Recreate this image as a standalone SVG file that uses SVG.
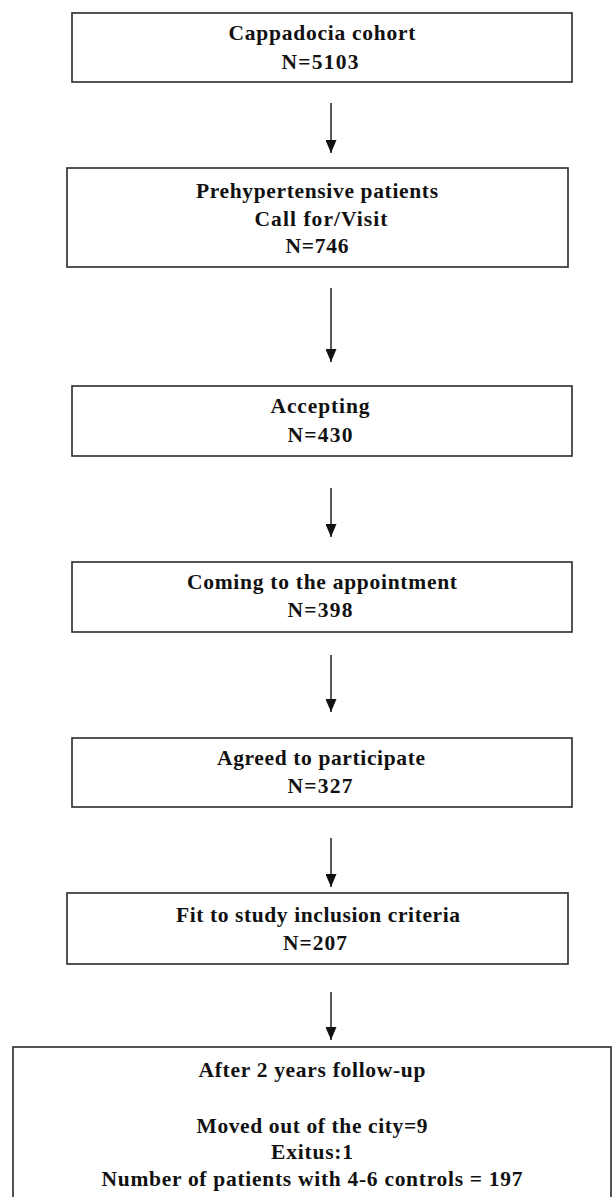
<svg xmlns="http://www.w3.org/2000/svg" width="612" height="1197" viewBox="0 0 612 1197">
<defs>
<style>
.box{fill:#ffffff;stroke:#2a2a2a;stroke-width:1.6}
.t{font-family:"Liberation Serif","Times New Roman",serif;font-weight:bold;font-size:21.5px;fill:#111;text-anchor:middle}
.c{stroke:#111;stroke-width:1.4;fill:none}
</style>
<marker id="ah" markerUnits="userSpaceOnUse" markerWidth="14" markerHeight="11" refX="13" refY="5.5" orient="auto">
<path d="M0,0 L13,5.5 L0,11 z" fill="#111"/>
</marker>
</defs>
<rect width="612" height="1197" fill="#ffffff"/>
<g id="connectors">
<line class="c" x1="331" y1="103" x2="331" y2="153" marker-end="url(#ah)"/>
<line class="c" x1="331" y1="288" x2="331" y2="362" marker-end="url(#ah)"/>
<line class="c" x1="331" y1="488" x2="331" y2="537" marker-end="url(#ah)"/>
<line class="c" x1="331" y1="655" x2="331" y2="712" marker-end="url(#ah)"/>
<line class="c" x1="331" y1="838" x2="331" y2="887" marker-end="url(#ah)"/>
<line class="c" x1="331" y1="992" x2="331" y2="1040" marker-end="url(#ah)"/>
</g>
<g id="n1">
<rect class="box" x="72" y="13" width="500" height="69"/>
<text class="t" x="322" y="40" textLength="187">Cappadocia cohort</text>
<text class="t" x="320" y="69" textLength="77">N=5103</text>
</g>
<g id="n2">
<rect class="box" x="67" y="168" width="501" height="99"/>
<text class="t" x="317" y="198" textLength="242">Prehypertensive patients</text>
<text class="t" x="321" y="226" textLength="133">Call for/Visit</text>
<text class="t" x="317" y="253" textLength="63">N=746</text>
</g>
<g id="n3">
<rect class="box" x="72" y="386" width="500" height="70"/>
<text class="t" x="320" y="413" textLength="99">Accepting</text>
<text class="t" x="320" y="442" textLength="65">N=430</text>
</g>
<g id="n4">
<rect class="box" x="72" y="562" width="500" height="70"/>
<text class="t" x="322" y="589" textLength="270">Coming to the appointment</text>
<text class="t" x="320" y="617" textLength="65">N=398</text>
</g>
<g id="n5">
<rect class="box" x="72" y="738" width="500" height="69"/>
<text class="t" x="321" y="765" textLength="208">Agreed to participate</text>
<text class="t" x="320" y="793" textLength="65">N=327</text>
</g>
<g id="n6">
<rect class="box" x="67" y="893" width="501" height="71"/>
<text class="t" x="318" y="922" textLength="284">Fit to study  inclusion criteria</text>
<text class="t" x="315" y="950" textLength="64">N=207</text>
</g>
<g id="n7">
<rect class="box" x="13" y="1047" width="598" height="170"/>
<text class="t" x="312" y="1077" textLength="227">After 2 years follow-up</text>
<text class="t" x="312" y="1133" textLength="231">Moved out of the city=9</text>
<text class="t" x="312" y="1159" textLength="82">Exitus:1</text>
<text class="t" x="312" y="1186" textLength="421">Number of patients with 4-6 controls = 197</text>
</g>
</svg>
